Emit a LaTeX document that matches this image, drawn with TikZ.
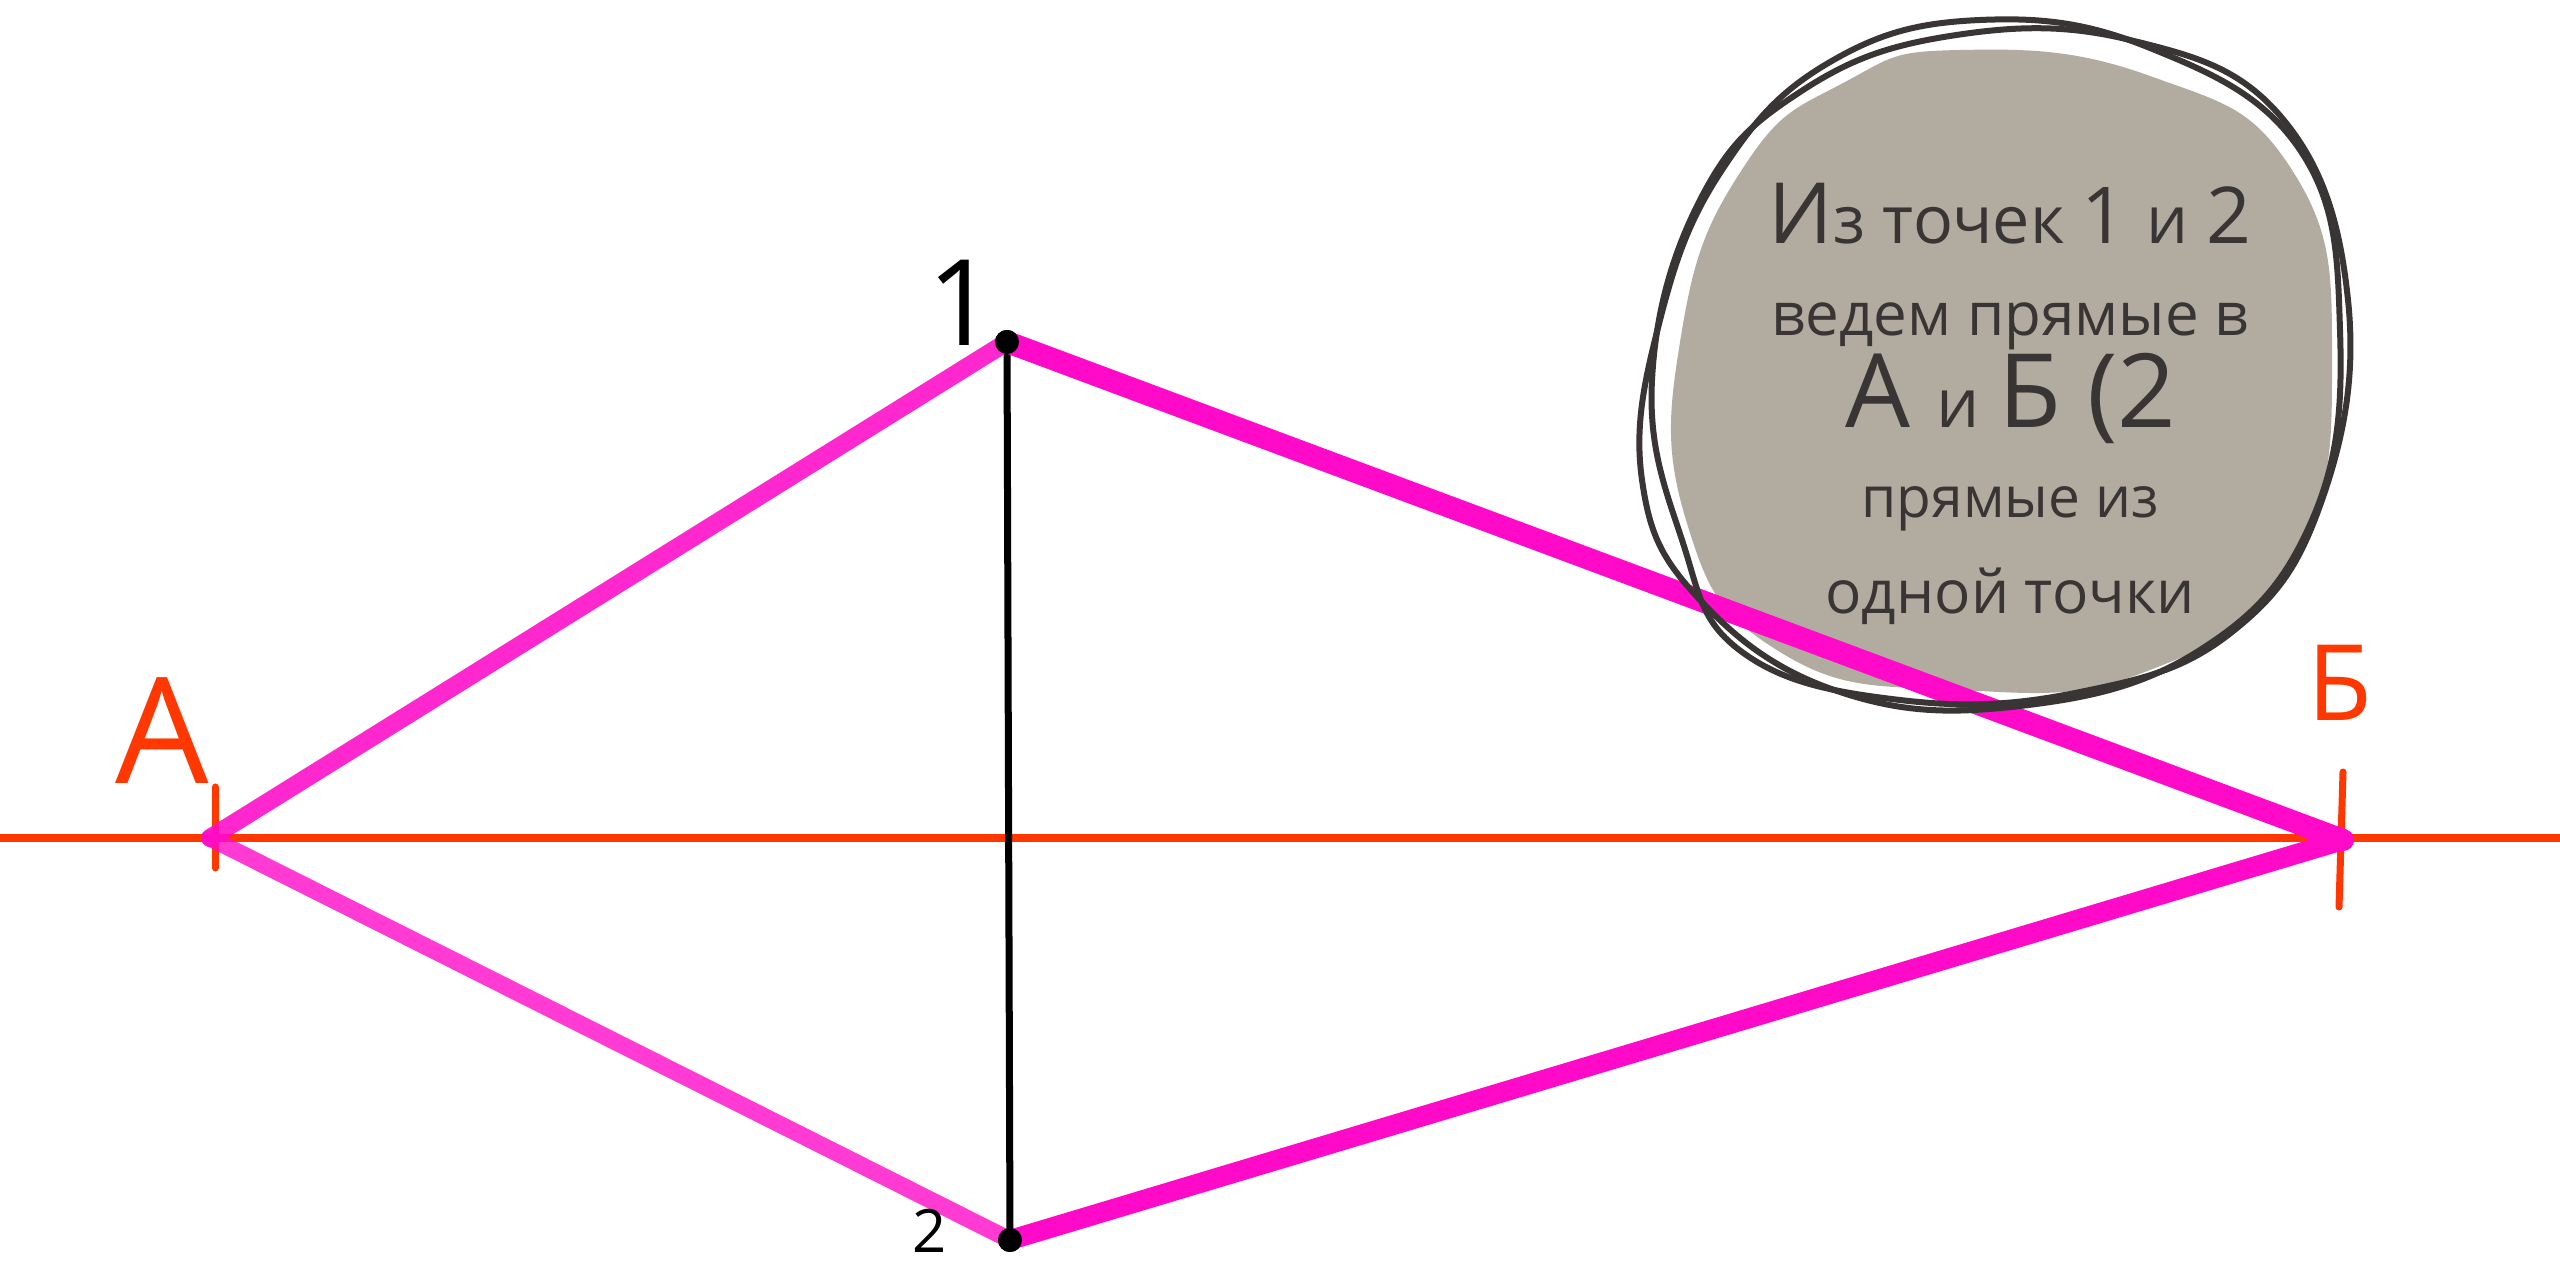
\documentclass[tikz,border=0pt]{standalone}
\usepackage{fontspec}
\setmainfont{Open Sans}
\usepackage{graphicx}
\definecolor{mag}{RGB}{255,10,200}
\definecolor{hred}{RGB}{255,55,0}
\definecolor{blobgray}{RGB}{178,172,160}
\definecolor{ink}{RGB}{58,53,53}
\newcommand{\fs}[1]{\fontsize{#1}{#1}\selectfont}
\begin{document}
\begin{tikzpicture}[x=0.01cm,y=-0.01cm,
  horizon/.style={draw=hred,line width=0.075cm},
  tickmark/.style={draw=hred,line width=0.07cm,line cap=round},
  pinkline/.style={draw=mag,line cap=round,line join=round},
  dotnode/.style={circle,fill=black,inner sep=0pt,minimum size=0.24cm},
  outline/.style={draw=ink,line width=0.06cm},
  txt/.style={text=ink,anchor=base,inner sep=0pt},
  lbl/.style={inner sep=0pt}]
\useasboundingbox (0,0) rectangle (2560,1267);
\fill[white] (0,0) rectangle (2560,1267);

% horizon
\coordinate (hl) at (0,838);
\coordinate (hr) at (2560,838);
\draw[horizon] (hl) -- (hr);

% vanishing points
\coordinate (A) at (210,838);
\coordinate (B) at (2343,840);
\coordinate (At) at (215,787);
\coordinate (Ab) at (215,868);
\coordinate (Bt) at (2343,772);
\coordinate (Bb) at (2339,907);
\draw[tickmark] (At) -- (Ab);
\draw[tickmark] (Bt) -- (Bb);

% points 1 and 2
\node[dotnode] (p1) at (1007,342) {};
\node[dotnode] (p2) at (1010,1240) {};
\draw[black,line width=0.07cm] (p1.center) -- (p2.center);

% blob fill
\fill[blobgray] plot[smooth cycle,tension=0.8] coordinates {
  (1960,50) (2150,76) (2292,170) (2332,360) (2292,560) (2150,670)
  (1960,690) (1780,652) (1686,520) (1682,330) (1745,165) (1845,82)};

% pink lines
\draw[pinkline,line width=0.18cm,opacity=0.88] (A) -- (p1.center);
\draw[pinkline,line width=0.22cm] (p1.center) -- (B);
\draw[pinkline,line width=0.17cm,opacity=0.8] (A) -- (p2.center);
\draw[pinkline,line width=0.20cm] (p2.center) -- (B);
\node[dotnode] at (p1) {};
\node[dotnode] at (p2) {};

% blob outlines
\draw[outline] plot[smooth cycle,tension=0.7] coordinates {
  (1980,20) (2150,48) (2300,150) (2340,330) (2312,520) (2200,650)
  (2020,706) (1840,692) (1700,600) (1642,480) (1660,320) (1722,170) (1830,62)};
\draw[outline] plot[smooth cycle,tension=0.7] coordinates {
  (1950,36) (2130,40) (2282,118) (2348,300) (2322,500) (2232,632)
  (2080,692) (1900,700) (1742,652) (1682,540) (1652,380) (1700,200) (1800,92)};

% text in blob
\node[txt] (t1) at (2010,244) {\resizebox{4.82cm}{!}{\fs{28}И\fs{22}з точек \fs{26}1 \fs{22}и \fs{26}2}};
\node[txt] (t2) at (2010,336) {\resizebox{4.77cm}{!}{\fs{18}ведем прямые в}};
\node[txt] (t3) at (2011,428) {\resizebox{3.31cm}{!}{\fs{24}А \fs{16}и \fs{24}Б (2}};
\node[txt] (t4) at (2010,518) {\resizebox{2.97cm}{!}{\fs{18}прямые из}};
\node[txt] (t5) at (2010,613) {\resizebox{3.69cm}{!}{\fs{18}одной точки}};

% labels
\node[lbl,text=hred] (la) at (162,731) {\fs{42}А};
\node[lbl,text=hred] (lb) at (2340,683) {\fs{30}Б};
\node[lbl,text=black] (l1) at (962,303) {\fs{34}1};
\node[lbl,text=black,anchor=base] (l2) at (930,1252) {\fs{17}2};
\end{tikzpicture}
\end{document}
